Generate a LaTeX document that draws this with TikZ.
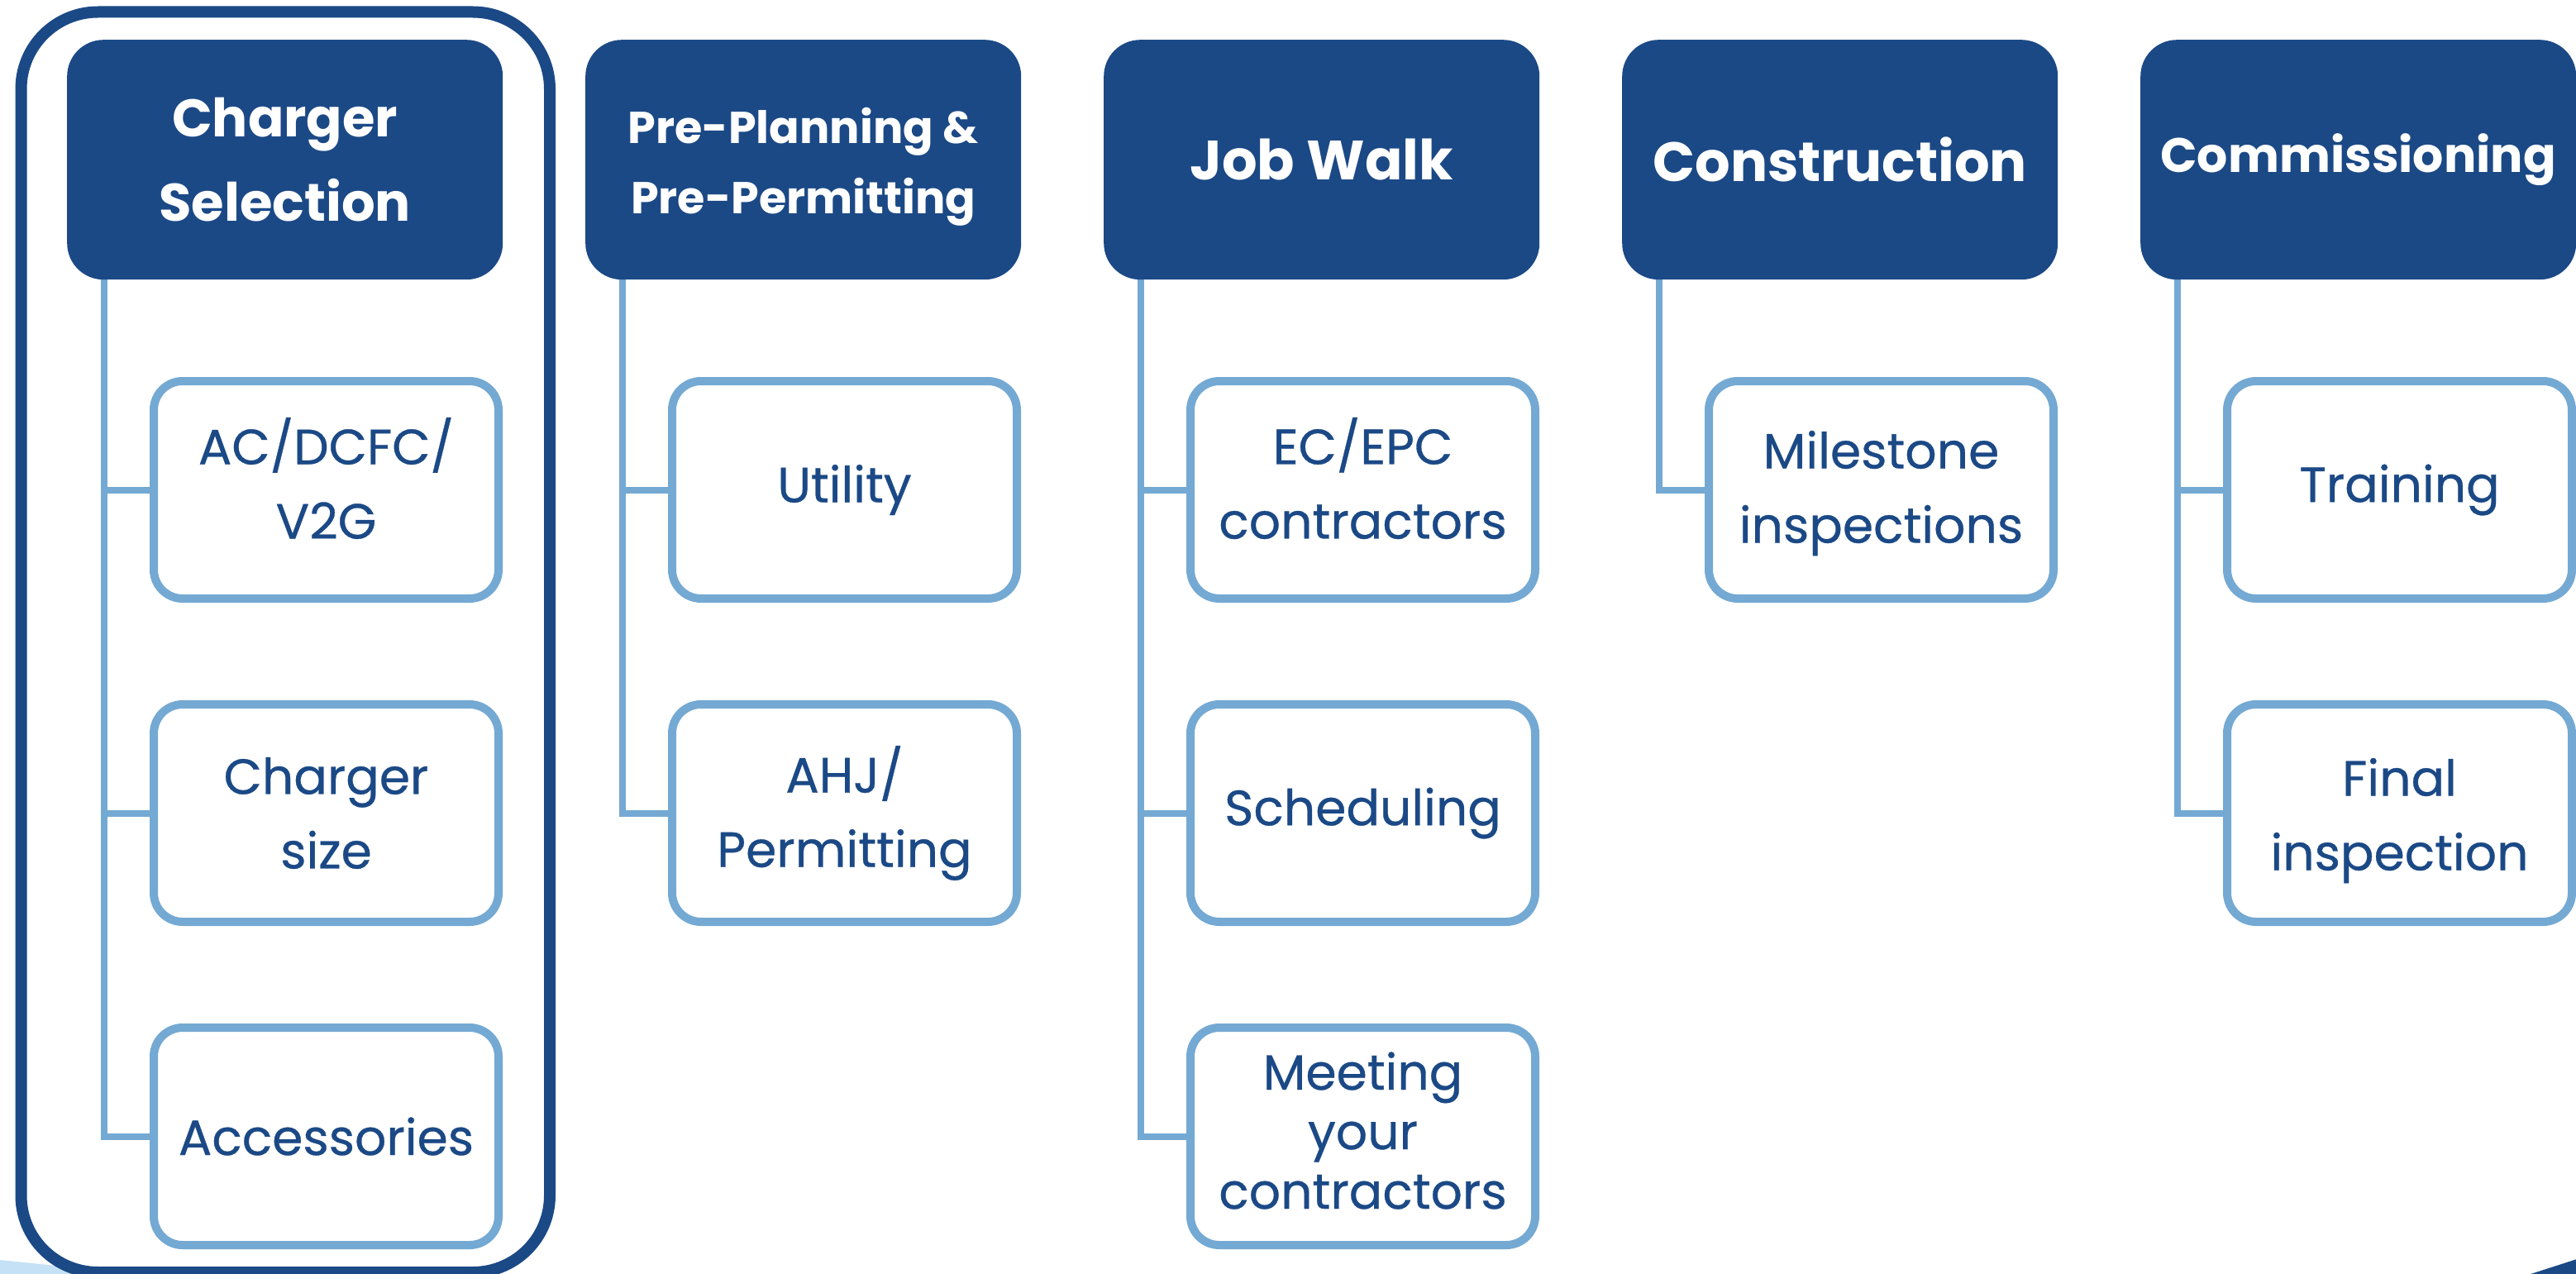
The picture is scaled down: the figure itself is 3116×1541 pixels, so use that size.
\documentclass[tikz,border=0pt]{standalone}
\usepackage{fontspec}
\setmainfont{Poppins}
\newfontfamily\medfont{Poppins}[FakeBold=0.5]
\definecolor{dblue}{RGB}{27,73,134}
\definecolor{lblue}{RGB}{116,169,211}
\definecolor{wblue}{RGB}{197,225,245}
\newcommand\myfs[2]{\fontsize{#1}{#2}\selectfont}
\begin{document}
\begin{tikzpicture}[x=1pt,y=-1pt,
  hdr/.style={fill=dblue, draw=none, rounded corners=44pt, minimum width=527pt, minimum height=290pt,
    anchor=north west, inner sep=0pt, align=center, text=white},
  child/.style={fill=white, draw=lblue, line width=10pt, rounded corners=35pt, minimum width=417pt,
    minimum height=263pt, inner sep=0pt, align=center, text=dblue, font=\medfont\myfs{60}{90}},
  lbl/.style={inner sep=0pt, align=center},
  conn/.style={draw=lblue, line width=8pt},
  frame/.style={draw=dblue, line width=14pt, rounded corners=93pt, fill=white}]
\useasboundingbox (0,0) rectangle (3116,1541);
% decorative wedges
\fill[wblue] (0,1524) -- (175,1542) -- (0,1542) -- cycle;
\fill[dblue] (3058,1542) -- (3117,1523) -- (3117,1542) -- cycle;
% outer frame
\draw[frame] (25.5,14.5) rectangle (665,1539);
% trunk coordinates
\coordinate (t1) at (126,336);
\coordinate (t2) at (753,336);
\coordinate (t3) at (1380,336);
\coordinate (t4) at (2007,336);
\coordinate (t5) at (2634,336);
% children
\node[child] (c11) at (394.5,592.5) {};
\node[lbl, text=dblue, font=\medfont\myfs{60}{90}] at ([yshift=14pt]c11.center) {AC/DCFC/\\V2G};
\node[child] (c12) at (394.5,983.5) {Charger\\size};
\node[child] (c13) at (394.5,1374.5) {Accessories};
\node[child] (c21) at (1021.5,592.5) {Utility};
\node[child] (c22) at (1021.5,983.5) {AHJ/\\Permitting};
\node[child] (c31) at (1648.5,592.5) {};
\node[lbl, text=dblue, font=\medfont\myfs{60}{90}] at ([yshift=14pt]c31.center) {EC/EPC\\contractors};
\node[child] (c32) at (1648.5,983.5) {Scheduling};
\node[child] (c33) at (1648.5,1374.5) {};
\node[lbl, text=dblue, font=\medfont\myfs{60}{72}] at ([yshift=7pt]c33.center) {Meeting\\your\\contractors};
\node[child] (c41) at (2275.5,592.5) {};
\node[lbl, text=dblue, font=\medfont\myfs{60}{90}] at ([yshift=-4pt]c41.center) {Milestone\\inspections};
\node[child] (c51) at (2902.5,592.5) {Training};
\node[child] (c52) at (2902.5,983.5) {};
\node[lbl, text=dblue, font=\medfont\myfs{60}{90}] at ([yshift=-9pt]c52.center) {Final\\inspection};
% connectors
\draw[conn] (t1) |- (c13.west);
\draw[conn] (t1 |- c11.west) -- (c11.west);
\draw[conn] (t1 |- c12.west) -- (c12.west);
\draw[conn] (t2) |- (c22.west);
\draw[conn] (t2 |- c21.west) -- (c21.west);
\draw[conn] (t3) |- (c33.west);
\draw[conn] (t3 |- c31.west) -- (c31.west);
\draw[conn] (t3 |- c32.west) -- (c32.west);
\draw[conn] (t4) |- (c41.west);
\draw[conn] (t5) |- (c52.west);
\draw[conn] (t5 |- c51.west) -- (c51.west);
% headers
\node[hdr, font=\bfseries\myfs{64}{102}] (h1) at (81,48) {Charger\\Selection};
\node[hdr] (h2) at (708,48) {};
\node[lbl, text=white, font=\bfseries\myfs{54}{85}] at ([yshift=-9pt]h2.center) {Pre-Planning \&\\Pre-Permitting};
\node[hdr, font=\bfseries\myfs{67}{90}] (h3) at (1335,48) {Job Walk};
\node[hdr, font=\bfseries\myfs{67}{90}] (h4) at (1962,48) {Construction};
\node[hdr, font=\bfseries\myfs{58.5}{90}] (h5) at (2589,48) {Commissioning};
\end{tikzpicture}
\end{document}
